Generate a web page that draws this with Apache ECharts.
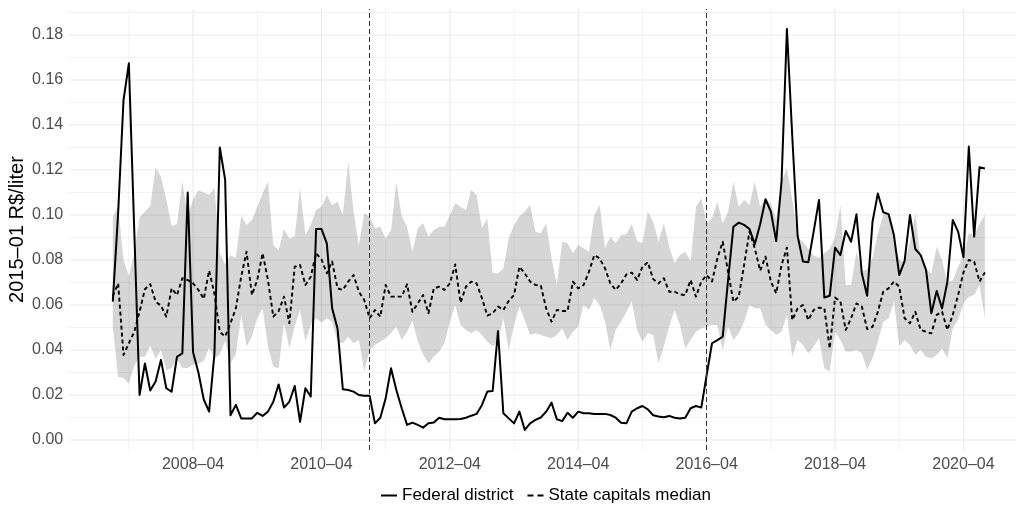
<!DOCTYPE html>
<html>
<head>
<meta charset="utf-8">
<script src="https://cdn.jsdelivr.net/npm/echarts@6/dist/echarts.min.js"></script>
<style>
  html, body { margin: 0; padding: 0; background: #ffffff; }
  #chart { width: 1016px; height: 508px; }
</style>
</head>
<body>
<div id="chart"></div>
<script>
// Monthly series, first observation 2007-01 (index 0).
const startYear = 2007;
const startMonth = 1;

// Federal district price (2015-01 R$/liter)
const federalDistrict = [
  0.0615, 0.101, 0.151, 0.1674, 0.094, 0.020, 0.034, 0.022, 0.026, 0.0356,
  0.023, 0.0215, 0.037, 0.0385, 0.110, 0.039, 0.030, 0.018, 0.0126, 0.0385,
  0.130, 0.1156, 0.011, 0.0156, 0.0096, 0.0096, 0.0096, 0.0121, 0.0107, 0.0126,
  0.017, 0.0247, 0.0144, 0.017, 0.024, 0.0081, 0.023, 0.0193, 0.0938, 0.0938,
  0.0874, 0.0585, 0.0496, 0.0225, 0.0222, 0.0215, 0.020, 0.0197, 0.0197, 0.0074,
  0.0099, 0.0185, 0.0319, 0.0222, 0.0141, 0.0067, 0.0077, 0.0067, 0.0055, 0.0074,
  0.0078, 0.0099, 0.0092, 0.0092, 0.0092, 0.0093, 0.0099, 0.0108, 0.0116, 0.0156,
  0.0215, 0.0218, 0.0484, 0.0119, 0.0096, 0.0074, 0.0126, 0.0045, 0.0074, 0.0089,
  0.010, 0.0126, 0.0166, 0.0092, 0.0084, 0.0121, 0.0099, 0.0126, 0.0119, 0.0119,
  0.0116, 0.0116, 0.0116, 0.0111, 0.0099, 0.0077, 0.0074, 0.0126, 0.0141, 0.0151,
  0.0136, 0.011, 0.0104, 0.0101, 0.0107, 0.0099, 0.0096, 0.0099, 0.0141, 0.0151,
  0.0144, 0.0289, 0.043, 0.0444, 0.0459, 0.071, 0.0948, 0.0966, 0.0956, 0.0938,
  0.087, 0.0959, 0.107, 0.1015, 0.0884, 0.115, 0.1827, 0.135, 0.0908, 0.0793,
  0.079, 0.0926, 0.1067, 0.0633, 0.0641, 0.0855, 0.0822, 0.0929, 0.0881, 0.1003,
  0.0741, 0.0641, 0.097, 0.1096, 0.1012, 0.1004, 0.0911, 0.0733, 0.0796, 0.100,
  0.0849, 0.0822, 0.0756, 0.0563, 0.0662, 0.0585, 0.0704, 0.0978, 0.0926, 0.0812,
  0.1304, 0.0904, 0.1212, 0.1207
];

// Median across state capitals
const capitalsMedian = [
  0.064, 0.0696, 0.0378, 0.043, 0.048, 0.057, 0.067, 0.0693, 0.0615, 0.0597,
  0.0548, 0.0674, 0.0644, 0.0719, 0.0711, 0.0696, 0.0667, 0.0627, 0.0753, 0.065,
  0.048, 0.046, 0.0519, 0.0585, 0.0726, 0.0837, 0.0644, 0.0711, 0.083, 0.0711,
  0.0548, 0.0573, 0.0637, 0.0519, 0.077, 0.0778, 0.0689, 0.0726, 0.083, 0.0803,
  0.0741, 0.0793, 0.0674, 0.0667, 0.0704, 0.0733, 0.0659, 0.0622, 0.0541, 0.0578,
  0.0548, 0.0689, 0.0637, 0.0637, 0.0637, 0.0692, 0.057, 0.0607, 0.0644, 0.0563,
  0.0674, 0.0681, 0.0667, 0.0696, 0.078, 0.061, 0.0681, 0.0704, 0.0696, 0.063,
  0.0553, 0.0563, 0.0593, 0.0578, 0.0618, 0.0644, 0.077, 0.0741, 0.0704, 0.0689,
  0.0686, 0.0585, 0.0526, 0.0578, 0.0573, 0.0573, 0.0704, 0.0674, 0.0689, 0.0748,
  0.0822, 0.0807, 0.0763, 0.0696, 0.0667, 0.0696, 0.0736, 0.0744, 0.0711, 0.077,
  0.079, 0.0715, 0.0696, 0.0719, 0.0659, 0.0659, 0.0647, 0.0644, 0.0711, 0.0637,
  0.0704, 0.0733, 0.0704, 0.0807, 0.0881, 0.0748, 0.0615, 0.0637, 0.0778, 0.0926,
  0.0852, 0.0752, 0.0815, 0.0704, 0.0652, 0.0778, 0.0855, 0.0533, 0.0585, 0.060,
  0.0533, 0.0578, 0.0588, 0.0585, 0.0407, 0.0633, 0.0615, 0.0489, 0.0541, 0.0607,
  0.0593, 0.0493, 0.0503, 0.057, 0.0659, 0.0674, 0.0704, 0.0681, 0.0541, 0.0519,
  0.057, 0.0489, 0.0481, 0.0474, 0.0556, 0.057, 0.0489, 0.0556, 0.0644, 0.0745,
  0.080, 0.0793, 0.0704, 0.0745
];

// Lower edge of the state capitals band
const capitalsLow = [
  0.050, 0.028, 0.0275, 0.025, 0.033, 0.037, 0.037, 0.042, 0.036, 0.040,
  0.031, 0.032, 0.036, 0.032, 0.032, 0.0335, 0.034, 0.035, 0.041, 0.0363,
  0.038, 0.044, 0.034, 0.038, 0.0556, 0.0415, 0.0459, 0.0541, 0.0585, 0.0415,
  0.0326, 0.0319, 0.0519, 0.0407, 0.0504, 0.0578, 0.0437, 0.0511, 0.0541, 0.0522,
  0.0541, 0.0526, 0.0437, 0.043, 0.0459, 0.043, 0.0444, 0.0304, 0.040, 0.0422,
  0.0437, 0.0452, 0.0474, 0.0504, 0.0444, 0.048, 0.053, 0.044, 0.038, 0.034,
  0.037, 0.0393, 0.043, 0.0526, 0.060, 0.0511, 0.0489, 0.0474, 0.0489, 0.0467,
  0.0437, 0.0415, 0.044, 0.0541, 0.040, 0.0511, 0.0593, 0.0533, 0.0467, 0.0474,
  0.0467, 0.0459, 0.0452, 0.0467, 0.0496, 0.0444, 0.0481, 0.0504, 0.060, 0.0578,
  0.063, 0.060, 0.0526, 0.040, 0.0489, 0.0526, 0.057, 0.0615, 0.0489, 0.0437,
  0.0474, 0.0467, 0.0341, 0.0415, 0.0504, 0.0578, 0.0511, 0.0407, 0.0444, 0.0481,
  0.0496, 0.0504, 0.0511, 0.0511, 0.040, 0.0504, 0.0444, 0.0474, 0.0526, 0.060,
  0.0585, 0.0585, 0.0511, 0.0489, 0.0467, 0.0481, 0.0556, 0.037, 0.0444, 0.0422,
  0.0385, 0.0415, 0.0452, 0.0319, 0.0304, 0.0481, 0.0444, 0.0393, 0.0393, 0.040,
  0.0385, 0.0311, 0.0363, 0.0437, 0.0526, 0.054, 0.0615, 0.0415, 0.0444, 0.0422,
  0.0378, 0.040, 0.037, 0.0363, 0.0378, 0.0407, 0.0363, 0.0496, 0.0533, 0.0607,
  0.0637, 0.0644, 0.0689, 0.054
];

// Upper edge of the state capitals band
const capitalsHigh = [
  0.099, 0.104, 0.080, 0.073, 0.083, 0.099, 0.1015, 0.104, 0.121, 0.117,
  0.107, 0.095, 0.096, 0.115, 0.099, 0.107, 0.111, 0.110, 0.109, 0.112,
  0.083, 0.078, 0.082, 0.081, 0.0997, 0.0956, 0.0978, 0.1037, 0.1096, 0.1148,
  0.0867, 0.0844, 0.0938, 0.0896, 0.0904, 0.1119, 0.0911, 0.0956, 0.1022, 0.1037,
  0.1089, 0.1044, 0.1059, 0.100, 0.1237, 0.1015, 0.0867, 0.1007, 0.0993, 0.0941,
  0.0948, 0.0896, 0.0933, 0.1148, 0.0993, 0.0948, 0.0837, 0.0941, 0.0963, 0.0904,
  0.0933, 0.0948, 0.0948, 0.100, 0.1052, 0.1037, 0.1022, 0.1111, 0.1089, 0.0941,
  0.0985, 0.0741, 0.0741, 0.0763, 0.0896, 0.0956, 0.0993, 0.1015, 0.1044, 0.0926,
  0.0919, 0.0963, 0.081, 0.0689, 0.0881, 0.0874, 0.083, 0.0867, 0.0852, 0.0837,
  0.100, 0.1044, 0.0852, 0.0904, 0.0874, 0.0911, 0.0914, 0.0959, 0.0884, 0.0874,
  0.1015, 0.097, 0.0881, 0.0963, 0.0859, 0.0785, 0.0822, 0.0837, 0.0793, 0.1037,
  0.1074, 0.0963, 0.0985, 0.1059, 0.0963, 0.1015, 0.1148, 0.1037, 0.1067, 0.1044,
  0.1148, 0.1037, 0.1074, 0.105, 0.098, 0.115, 0.1207, 0.107, 0.090, 0.0881,
  0.085, 0.082, 0.081, 0.083, 0.085, 0.090, 0.1044, 0.0689, 0.0689, 0.0837,
  0.0748, 0.076, 0.081, 0.092, 0.100, 0.101, 0.090, 0.080, 0.079, 0.088,
  0.1005, 0.080, 0.076, 0.074, 0.086, 0.080, 0.070, 0.071, 0.077, 0.082,
  0.092, 0.091, 0.096, 0.100
];

// Axis breaks (month indices) and value ticks
const xMajorMonths = [15, 39, 63, 87, 111, 135, 159];   // 2008-04 ... 2020-04
const xMinorMonths = [3, 27, 51, 75, 99, 123, 147];     // 2007-04 ... 2019-04
const yMajorTicks = [0, 0.02, 0.04, 0.06, 0.08, 0.10, 0.12, 0.14, 0.16, 0.18];
const yMinorTicks = [0.01, 0.03, 0.05, 0.07, 0.09, 0.11, 0.13, 0.15, 0.17, 0.19];
// Reference dates marked with dashed lines: 2011-01 and 2016-04
const referenceMonths = [48, 111];

const FONT = "'Liberation Sans', Arial, Helvetica, sans-serif";

function monthLabel(i) {
  const total = (startMonth - 1) + i;
  const y = startYear + Math.floor(total / 12);
  const m = (total % 12) + 1;
  return y + '\u2013' + (m < 10 ? '0' + m : '' + m);
}

const pairs = arr => arr.map((v, i) => [i, v]);
const bandRows = capitalsLow.map((lo, i) => [i, lo, capitalsHigh[i]]);

// gridline specs: [orientation (0 = vertical, 1 = horizontal), value, major flag]
const gridSpecs = []
  .concat(xMinorMonths.map(v => [0, v, 0]))
  .concat(xMajorMonths.map(v => [0, v, 1]))
  .concat(yMinorTicks.map(v => [1, v, 0]))
  .concat(yMajorTicks.map(v => [1, v, 1]));

// legend keys: solid stroke and two dashes
const ICON_SOLID = 'path://M0,0H16V2H0Z';
const ICON_DASHED = 'path://M0,0H6V2H0Z M10,0H16V2H10Z';

const chart = echarts.init(document.getElementById('chart'), null, { renderer: 'canvas' });

chart.setOption({
  animation: false,
  backgroundColor: '#ffffff',
  textStyle: { fontFamily: FONT },
  grid: { left: 69.2, right: 0, top: 9, bottom: 58, containLabel: false, outerBoundsMode: 'none' },
  xAxis: {
    type: 'value',
    min: -8.15,
    max: 168.82,
    axisLine: { show: false },
    axisTick: { show: false },
    splitLine: { show: false },
    axisLabel: {
      customValues: xMajorMonths,
      formatter: v => monthLabel(Math.round(v)),
      color: '#4d4d4d',
      fontSize: 16,
      fontFamily: FONT,
      margin: 7
    }
  },
  yAxis: {
    type: 'value',
    min: -0.00445,
    max: 0.19156,
    name: '2015\u201301 R$/liter',
    nameLocation: 'middle',
    nameRotate: 90,
    nameGap: 42,
    nameMoveOverlap: false,
    nameTextStyle: { color: '#000000', fontSize: 20, fontFamily: FONT },
    axisLine: { show: false },
    axisTick: { show: false },
    splitLine: { show: false },
    axisLabel: {
      customValues: yMajorTicks,
      formatter: v => v.toFixed(2),
      color: '#4d4d4d',
      fontSize: 16,
      fontFamily: FONT,
      margin: 6
    }
  },
  legend: {
    data: [
      { name: 'Federal district', icon: ICON_SOLID },
      { name: 'State capitals median', icon: ICON_DASHED }
    ],
    left: 376,
    top: 482,
    itemWidth: 16,
    itemHeight: 14,
    itemGap: 14,
    symbolKeepAspect: true,
    itemStyle: { color: '#000000' },
    textStyle: { color: '#000000', fontSize: 17, fontFamily: FONT }
  },
  series: [
    {
      name: 'grid',
      type: 'custom',
      silent: true,
      z: 0,
      data: gridSpecs,
      renderItem: (params, api) => {
        const cs = params.coordSys;
        const kind = api.value(0);
        const v = api.value(1);
        const major = api.value(2) === 1;
        let x1, y1, x2, y2;
        if (kind === 0) {
          const p = api.coord([v, 0]);
          x1 = x2 = p[0];
          y1 = cs.y; y2 = cs.y + cs.height;
        } else {
          const p = api.coord([0, v]);
          y1 = y2 = p[1];
          x1 = cs.x; x2 = cs.x + cs.width;
        }
        return {
          type: 'line',
          shape: { x1, y1, x2, y2 },
          style: { stroke: '#ebebeb', lineWidth: major ? 1.1 : 0.6 }
        };
      }
    },
    {
      name: 'capitals range',
      type: 'custom',
      silent: true,
      z: 1,
      data: bandRows,
      encode: { x: 0, y: [1, 2] },
      renderItem: (params, api) => {
        if (params.dataIndexInside !== 0) return null;
        const n = params.dataInsideLength;
        const top = [];
        const bottom = [];
        for (let k = 0; k < n; k++) {
          const x = api.value(0, k);
          top.push(api.coord([x, api.value(2, k)]));
          bottom.push(api.coord([x, api.value(1, k)]));
        }
        return {
          type: 'polygon',
          shape: { points: top.concat(bottom.reverse()) },
          style: { fill: 'rgba(0,0,0,0.16)', stroke: null }
        };
      }
    },
    {
      name: 'State capitals median',
      type: 'line',
      data: pairs(capitalsMedian),
      symbol: 'none',
      color: '#000000',
      lineStyle: { color: '#000000', width: 1.9, type: [4, 3], join: 'round' },
      z: 3
    },
    {
      name: 'Federal district',
      type: 'line',
      data: pairs(federalDistrict),
      symbol: 'none',
      color: '#000000',
      lineStyle: { color: '#000000', width: 2, join: 'round' },
      z: 4,
      markLine: {
        silent: true,
        symbol: ['none', 'none'],
        label: { show: false },
        lineStyle: { color: '#333333', width: 1, type: [5, 3] },
        data: referenceMonths.map(m => ({ xAxis: m }))
      }
    }
  ]
});
</script>
</body>
</html>
